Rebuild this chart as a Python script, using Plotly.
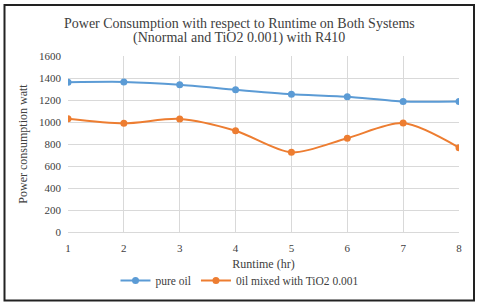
import plotly.graph_objects as go

runtime = [1, 2, 3, 4, 5, 6, 7, 8]
pure_oil = [1362, 1364, 1339, 1293, 1252, 1230, 1186, 1186]
tio2_oil = [1030, 988, 1028, 921, 724, 853, 990, 767]
y_ticks = [0, 200, 400, 600, 800, 1000, 1200, 1400, 1600]
title_lines = ["Power Consumption with respect to Runtime on Both Systems",
               "(Nnormal and TiO2 0.001) with R410"]

W, H = 480, 307
L, R, T, B = 68, 21, 56, 75
pw, ph = W - L - R, H - T - B

def px(x):
    return (x - L) / pw

def py(y):
    return (H - B - y) / ph

font = "'Liberation Serif', 'Times New Roman', Times, serif"

fig = go.Figure()
fig.add_trace(go.Scatter(x=runtime, y=pure_oil, name="pure oil", mode="lines+markers",
                         line=dict(color="#5B9BD5", width=2, shape="spline", smoothing=0.6),
                         marker=dict(size=7, color="#5B9BD5")))
fig.add_trace(go.Scatter(x=runtime, y=tio2_oil, name="0il mixed with TiO2 0.001", mode="lines+markers",
                         line=dict(color="#ED7D31", width=2, shape="spline", smoothing=0.8),
                         marker=dict(size=7, color="#ED7D31")))

fig.update_layout(
    width=W, height=H,
    margin=dict(l=L, r=R, t=T, b=B),
    paper_bgcolor="white", plot_bgcolor="white",
    font=dict(family=font, size=11, color="#404040"),
    xaxis=dict(range=[1, 8], tickvals=runtime, showgrid=True, gridcolor="#D9D9D9", gridwidth=1,
               zeroline=False, showline=True, linecolor="#D9D9D9", ticks="", ticklabelstandoff=6,
               tickfont=dict(family=font, size=11),
               title=dict(text="Runtime (hr)", standoff=6, font=dict(family=font, size=12))),
    yaxis=dict(range=[0, 1600], tickvals=y_ticks, showgrid=True, gridcolor="#D9D9D9", gridwidth=1,
               zeroline=False, showline=False, ticks="", ticklabelstandoff=6,
               tickfont=dict(family=font, size=11),
               title=dict(text="Power consumption watt", standoff=8, font=dict(family=font, size=12))),
    legend=dict(orientation="h", x=px(240), xanchor="center", y=py(295), yanchor="bottom",
                font=dict(family=font, size=11.5), itemwidth=30, traceorder="normal"),
    showlegend=True,
)

for txt, yy in zip(title_lines, [23, 38]):
    fig.add_annotation(text=txt, xref="paper", yref="paper", x=px(239), y=py(yy),
                       xanchor="center", yanchor="middle", showarrow=False,
                       font=dict(family=font, size=14, color="#404040"))

fig.add_shape(type="rect", xref="paper", yref="paper",
              x0=px(4.5), x1=px(474), y0=py(300.5), y1=py(5),
              line=dict(color="#222222", width=2), fillcolor="rgba(0,0,0,0)", layer="above")

fig.write_html("out.html", config={"displayModeBar": False},
               post_script="document.body.style.margin='0';document.body.style.padding='0';")
